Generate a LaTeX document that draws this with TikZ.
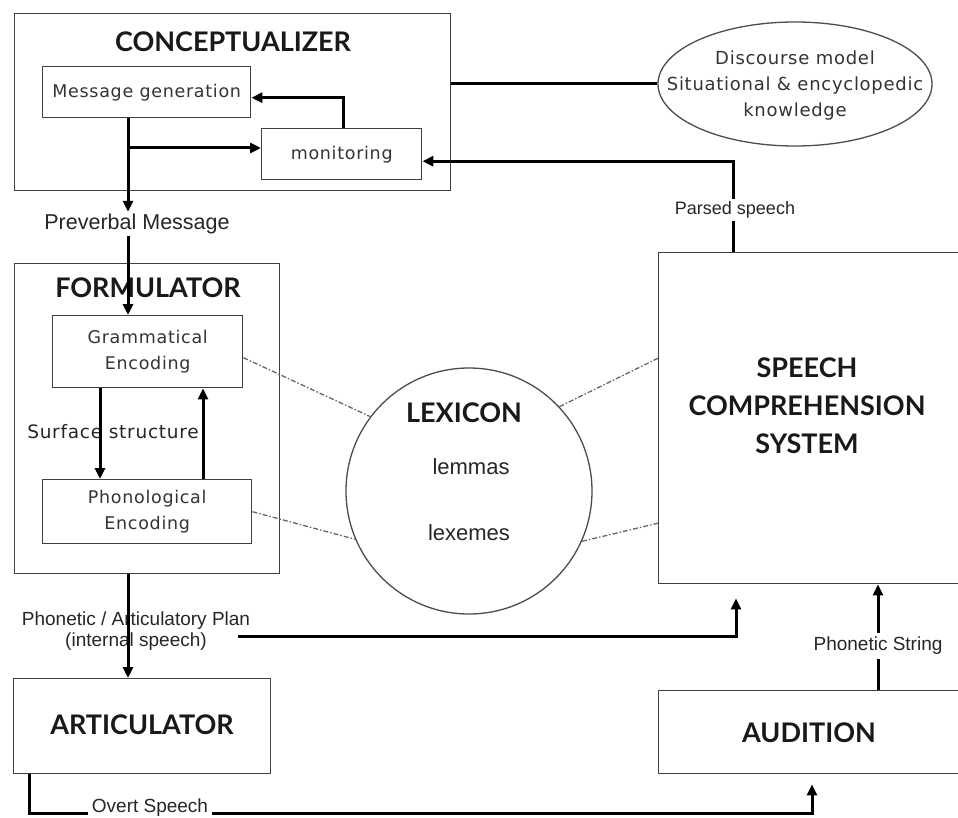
\documentclass[tikz,border=0pt]{standalone}
\usepackage{fontspec}
\setmainfont{Liberation Sans}
\newfontfamily\titlef{Lato}
\newfontfamily\geneva[LetterSpace=4]{DejaVu Sans}
\usetikzlibrary{arrows.meta,shapes.geometric}
\begin{document}
\begin{tikzpicture}[x=1pt,y=-1pt,
  box/.style={draw=black!75, line width=1.4pt, rectangle, anchor=north west, inner sep=0pt},
  ttl/.style={font=\titlef\bfseries\fontsize{27}{38}\selectfont, text=black!90, align=center, inner sep=0pt},
  inl/.style={font=\geneva\fontsize{17.5}{26}\selectfont, text=black!80, align=center},
  lbl/.style={font=\fontsize{19}{21}\selectfont, text=black!85, align=center, inner sep=2pt},
  arr/.style={line width=3pt, -{Triangle[length=11pt,width=10pt]}},
  conn/.style={line width=3pt},
  dsh/.style={draw=black!60, line width=1.3pt, dash pattern=on 5pt off 2pt on 1.5pt off 2pt}]
\path[use as bounding box] (0,0) rectangle (958,818);

% helper x positions
\coordinate (pvx) at (128,0);
\coordinate (psx) at (733,0);
\coordinate (plx) at (736,0);
\coordinate (phx) at (878,0);
\coordinate (ovx) at (812,0);

% CONCEPTUALIZER
\node[box, minimum width=436pt, minimum height=177pt] (concept) at (14,13) {};
\node[ttl] (concepttitle) at (233,42) {CONCEPTUALIZER};
\node[box, inl, minimum width=208pt, minimum height=51pt] (msggen) at (42,66) {Message generation};
\node[box, inl, minimum width=160pt, minimum height=51pt] (monitor) at (261,128) {monitoring};

% Discourse model
\node[draw=black!70, line width=1.3pt, ellipse, minimum width=274pt, minimum height=124pt, inner sep=0pt] (disc) at (795,84) {};
\node[inl, font=\geneva\fontsize{18}{26}\selectfont, inner sep=0pt] (disctext) at (795,86) {Discourse model\\Situational \& encyclopedic\\knowledge};

% FORMULATOR
\node[box, minimum width=265pt, minimum height=310pt] (formul) at (14,263) {};
\node[ttl] (formultitle) at (148,288) {FORMULATOR};
\node[box, inl, minimum width=190pt, minimum height=72pt] (gramm) at (52,315) {Grammatical\\Encoding};
\node[box, inl, minimum width=209pt, minimum height=64pt] (phono) at (42,479) {Phonological\\Encoding};

% LEXICON
\node[draw=black!70, line width=1.3pt, circle, minimum size=246pt, inner sep=0pt] (lex) at (469,491) {};
\node[ttl] (lextitle) at (464,413) {LEXICON};
\node[font=\fontsize{22}{24}\selectfont, text=black!85] (lemmas) at (471,467) {lemmas};
\node[font=\fontsize{22}{24}\selectfont, text=black!85] (lexemes) at (469,533) {lexemes};

% SPEECH COMPREHENSION SYSTEM
\node[box, minimum width=310pt, minimum height=331pt] (scs) at (658,252) {};
\node[ttl] (scstitle) at (807,406) {SPEECH\\COMPREHENSION\\SYSTEM};

% ARTICULATOR / AUDITION
\node[box, minimum width=257pt, minimum height=95pt] (artic) at (13,678) {};
\node[ttl] (artictitle) at (142,725) {ARTICULATOR};
\node[box, minimum width=310pt, minimum height=83pt] (audit) at (658,690) {};
\node[ttl] (audittitle) at (809,733) {AUDITION};

% labels
\node[lbl, font=\fontsize{21.5}{24}\selectfont] (pv) at (137,224) {Preverbal Message};
\node[lbl, font=\geneva\fontsize{18.5}{20}\selectfont] (surf) at (113,432) {Surface structure};
\node[lbl] (plan) at (136,631) {Phonetic / Articulatory Plan\\(internal speech)};

% connectors in conceptualizer
\draw[conn] (disc.west) -- (disc.west -| concept.east);
\draw[arr] ([xshift=2pt]monitor.north) |- ([yshift=-5.5pt]msggen.east);
\draw[arr] (msggen.south -| pvx) -- (pv.north -| pvx);
\coordinate (br) at (128,148);
\draw[arr] (br) -- (br -| monitor.west);
\draw[arr] (pv.south -| pvx) -- (gramm.north -| pvx);
\draw[arr] (scs.north -| psx) |- ([yshift=-7pt]monitor.east);
\node[lbl, fill=white, font=\fontsize{18}{20}\selectfont, inner sep=3pt] (ps) at (735,210) {Parsed speech};

% formulator internal
\coordinate (gdx) at (100,0);
\coordinate (gux) at (203,0);
\draw[arr] (gramm.south -| gdx) -- (phono.north -| gdx);
\draw[arr] (phono.north -| gux) -- (gramm.south -| gux);

% formulator to articulator and comprehension
\draw[arr] (formul.south -| pvx) -- (artic.north -| pvx);
\coordinate (pl) at (238,636);
\draw[arr] (pl) -| ([yshift=-14pt]scs.south -| plx);

% audition to comprehension
\draw[arr] (audit.north -| phx) -- (scs.south -| phx);
\node[lbl, fill=white, font=\fontsize{19}{21}\selectfont, inner sep=4pt] (phs) at (878,646) {Phonetic String};

% overt speech
\coordinate (ovc) at (29,813);
\draw[arr] (artic.south -| ovc) |- (ovc -| ovx) -- ([yshift=-10pt]audit.south -| ovx);
\node[lbl, fill=white, inner sep=4pt] (ovs) at (150,808) {Overt Speech};

% dashed lexical links
\draw[dsh] ([yshift=-6pt]gramm.east) -- (lex.143);
\draw[dsh] (phono.east) -- (lex.203);
\draw[dsh] (lex.43) -- ([yshift=60pt]scs.west);
\draw[dsh] (lex.336) -- ([yshift=-105pt]scs.west);
\end{tikzpicture}
\end{document}
